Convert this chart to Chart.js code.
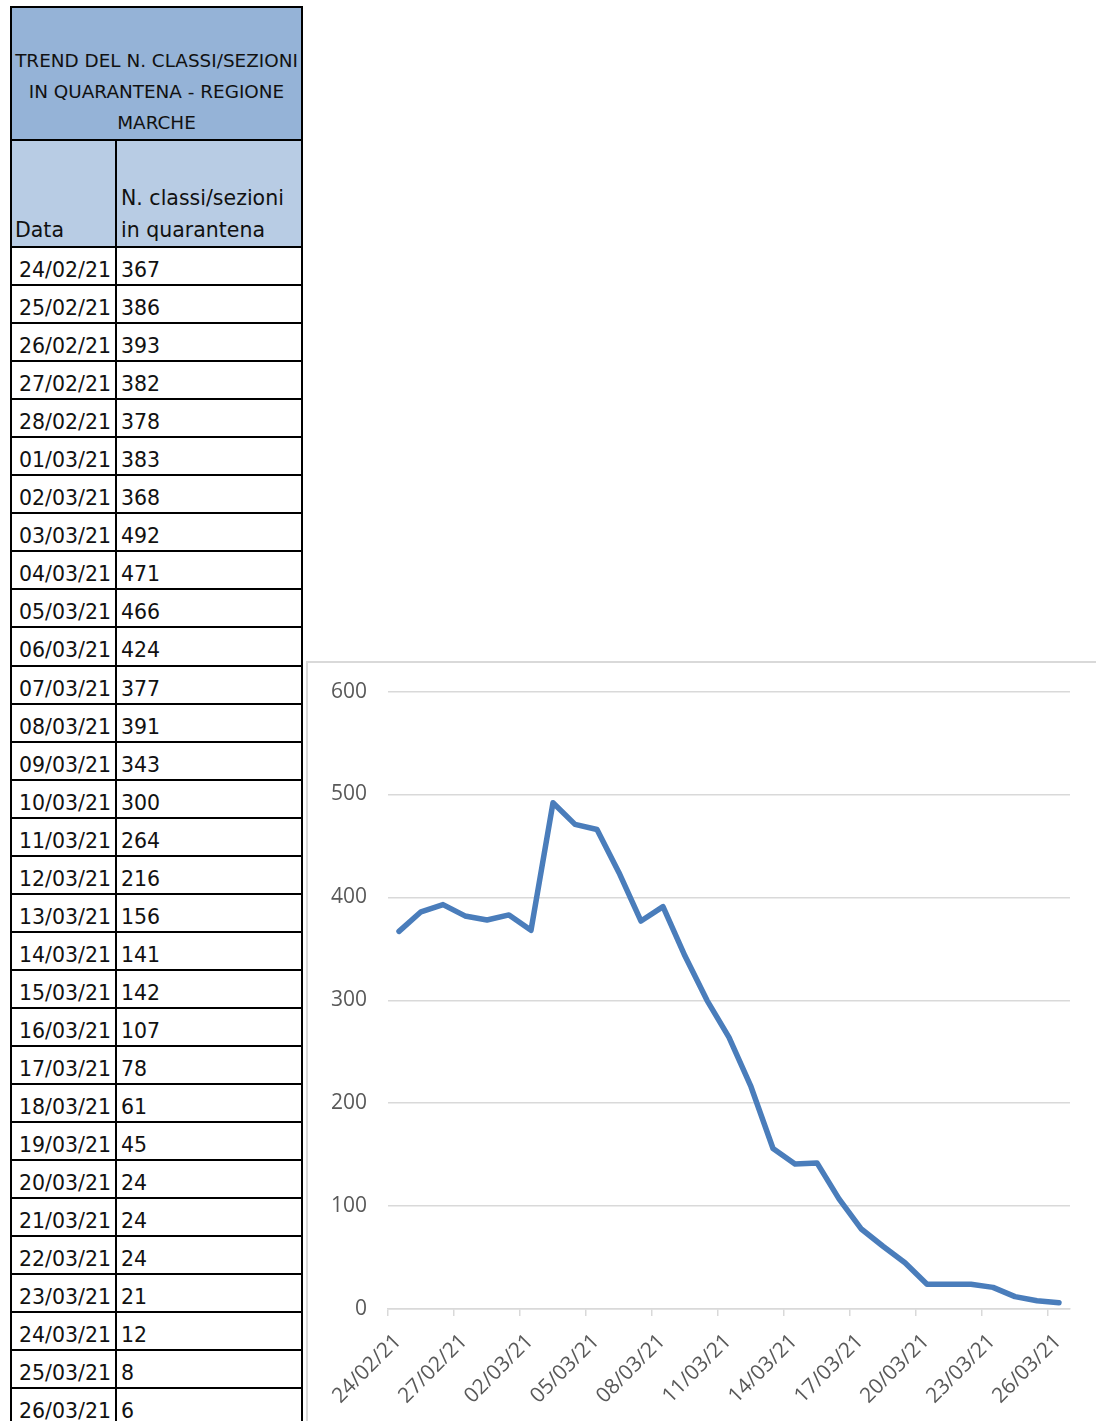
<!DOCTYPE html>
<html>
<head>
<meta charset="utf-8">
<script src="https://cdn.jsdelivr.net/npm/chart.js@4"></script>
<style>
  html, body { margin: 0; padding: 0; background: #fff; }
  body { width: 1096px; height: 1421px; position: relative; overflow: hidden; font-family: 'DejaVu Sans', sans-serif; color: #111; }

  /* ── Table ── */
  .tbl { position: absolute; left: 10px; top: 6px; width: 293px; }
  .title {
    height: 133px; box-sizing: border-box; background: #95b3d7;
    border: 2px solid #000; border-bottom: none;
    display: flex; flex-direction: column; justify-content: flex-end; align-items: center;
    font-size: 18.4px; line-height: 31px; padding-bottom: 1px; text-align: center;
  }
  .row { display: flex; box-sizing: border-box; border-left: 2px solid #000; border-right: 2px solid #000; border-top: 2px solid #000; }
  .row .c1 { width: 105px; box-sizing: border-box; border-right: 2px solid #000; }
  .row .c2 { flex: 1; }
  .head { height: 107px; background: #b8cce4; font-size: 20.5px; line-height: 32px; }
  .head .c1, .head .c2 { display: flex; flex-direction: column; justify-content: flex-end; }
  .head .c1 { padding-left: 3px; }
  .head .c2 { padding-left: 4px; }
  .data { height: 38.05px; font-size: 20.5px; line-height: 38px; }
  .data .c1 { padding-left: 7px; padding-top: 3px; }
  .data .c2 { padding-left: 4px; padding-top: 3px; }

  /* ── Chart frame ── */
  .frame { position: absolute; left: 306px; top: 661px; width: 790px; height: 760px; box-sizing: border-box; border-top: 2px solid #d9d9d9; border-left: 2px solid #d9d9d9; }
  .frame canvas { display: block; margin-top: -5px; }
</style>
</head>
<body>
<div class="tbl" id="tbl">
  <div class="title"><div>TREND DEL N. CLASSI/SEZIONI</div><div>IN QUARANTENA - REGIONE</div><div>MARCHE</div></div>
  <div class="row head"><div class="c1"><div>Data</div></div><div class="c2"><div>N. classi/sezioni</div><div>in quarantena</div></div></div>
</div>
<div class="frame"><canvas id="chart" width="788" height="763"></canvas></div>

<script>
// ── Data ─────────────────────────────────────
const dates = [
  '24/02/21','25/02/21','26/02/21','27/02/21','28/02/21','01/03/21','02/03/21','03/03/21',
  '04/03/21','05/03/21','06/03/21','07/03/21','08/03/21','09/03/21','10/03/21','11/03/21',
  '12/03/21','13/03/21','14/03/21','15/03/21','16/03/21','17/03/21','18/03/21','19/03/21',
  '20/03/21','21/03/21','22/03/21','23/03/21','24/03/21','25/03/21','26/03/21'
];
const classi = [
  367, 386, 393, 382, 378, 383, 368, 492,
  471, 466, 424, 377, 391, 343, 300, 264,
  216, 156, 141, 142, 107, 78, 61, 45,
  24, 24, 24, 21, 12, 8, 6
];
const yTicks = [0, 100, 200, 300, 400, 500, 600];

// ── Table ────────────────────────────────────
const tbl = document.getElementById('tbl');
dates.forEach((d, i) => {
  const row = document.createElement('div');
  row.className = 'row data';
  row.innerHTML = `<div class="c1">${d}</div><div class="c2">${classi[i]}</div>`;
  tbl.appendChild(row);
});

// ── Chart ────────────────────────────────────
const GRID = '#d9d9d9';
const LABEL = '#595959';
const FONT = { family: "'Open Sans', sans-serif", size: 21 };

new Chart(document.getElementById('chart'), {
  type: 'line',
  data: {
    datasets: [{
      label: 'N. classi/sezioni in quarantena',
      data: classi.map((v, i) => ({ x: i + 0.5, y: v })),
      borderColor: '#4a7dbb',
      borderWidth: 5.5,
      pointRadius: 0,
      tension: 0,
      borderJoinStyle: 'round',
      borderCapStyle: 'round',
      fill: false
    }]
  },
  options: {
    responsive: false,
    animation: false,
    layout: { padding: { top: 22, right: 26, left: 0, bottom: 0 } },
    plugins: { legend: { display: false }, tooltip: { enabled: false } },
    scales: {
      x: {
        type: 'linear',
        min: 0, max: dates.length,
        afterFit: s => { s.height = 112; },
        grid: { drawOnChartArea: false, drawTicks: true, tickLength: 7, color: GRID, lineWidth: 1.5 },
        border: { display: true, color: GRID, width: 1.5 },
        ticks: {
          stepSize: 3, includeBounds: false, autoSkip: false,
          maxRotation: 45, minRotation: 45,
          color: LABEL, font: FONT, padding: 13, labelOffset: 10,
          callback: v => dates[v] ?? ''
        }
      },
      y: {
        min: 0, max: 600,
        afterFit: s => { s.width = 80; },
        afterBuildTicks: s => { s.ticks = yTicks.map(v => ({ value: v })); },
        grid: { drawTicks: false, color: GRID, lineWidth: 1.5 },
        border: { display: false },
        ticks: { color: LABEL, font: FONT, padding: 21 }
      }
    }
  }
});
</script>
</body>
</html>
